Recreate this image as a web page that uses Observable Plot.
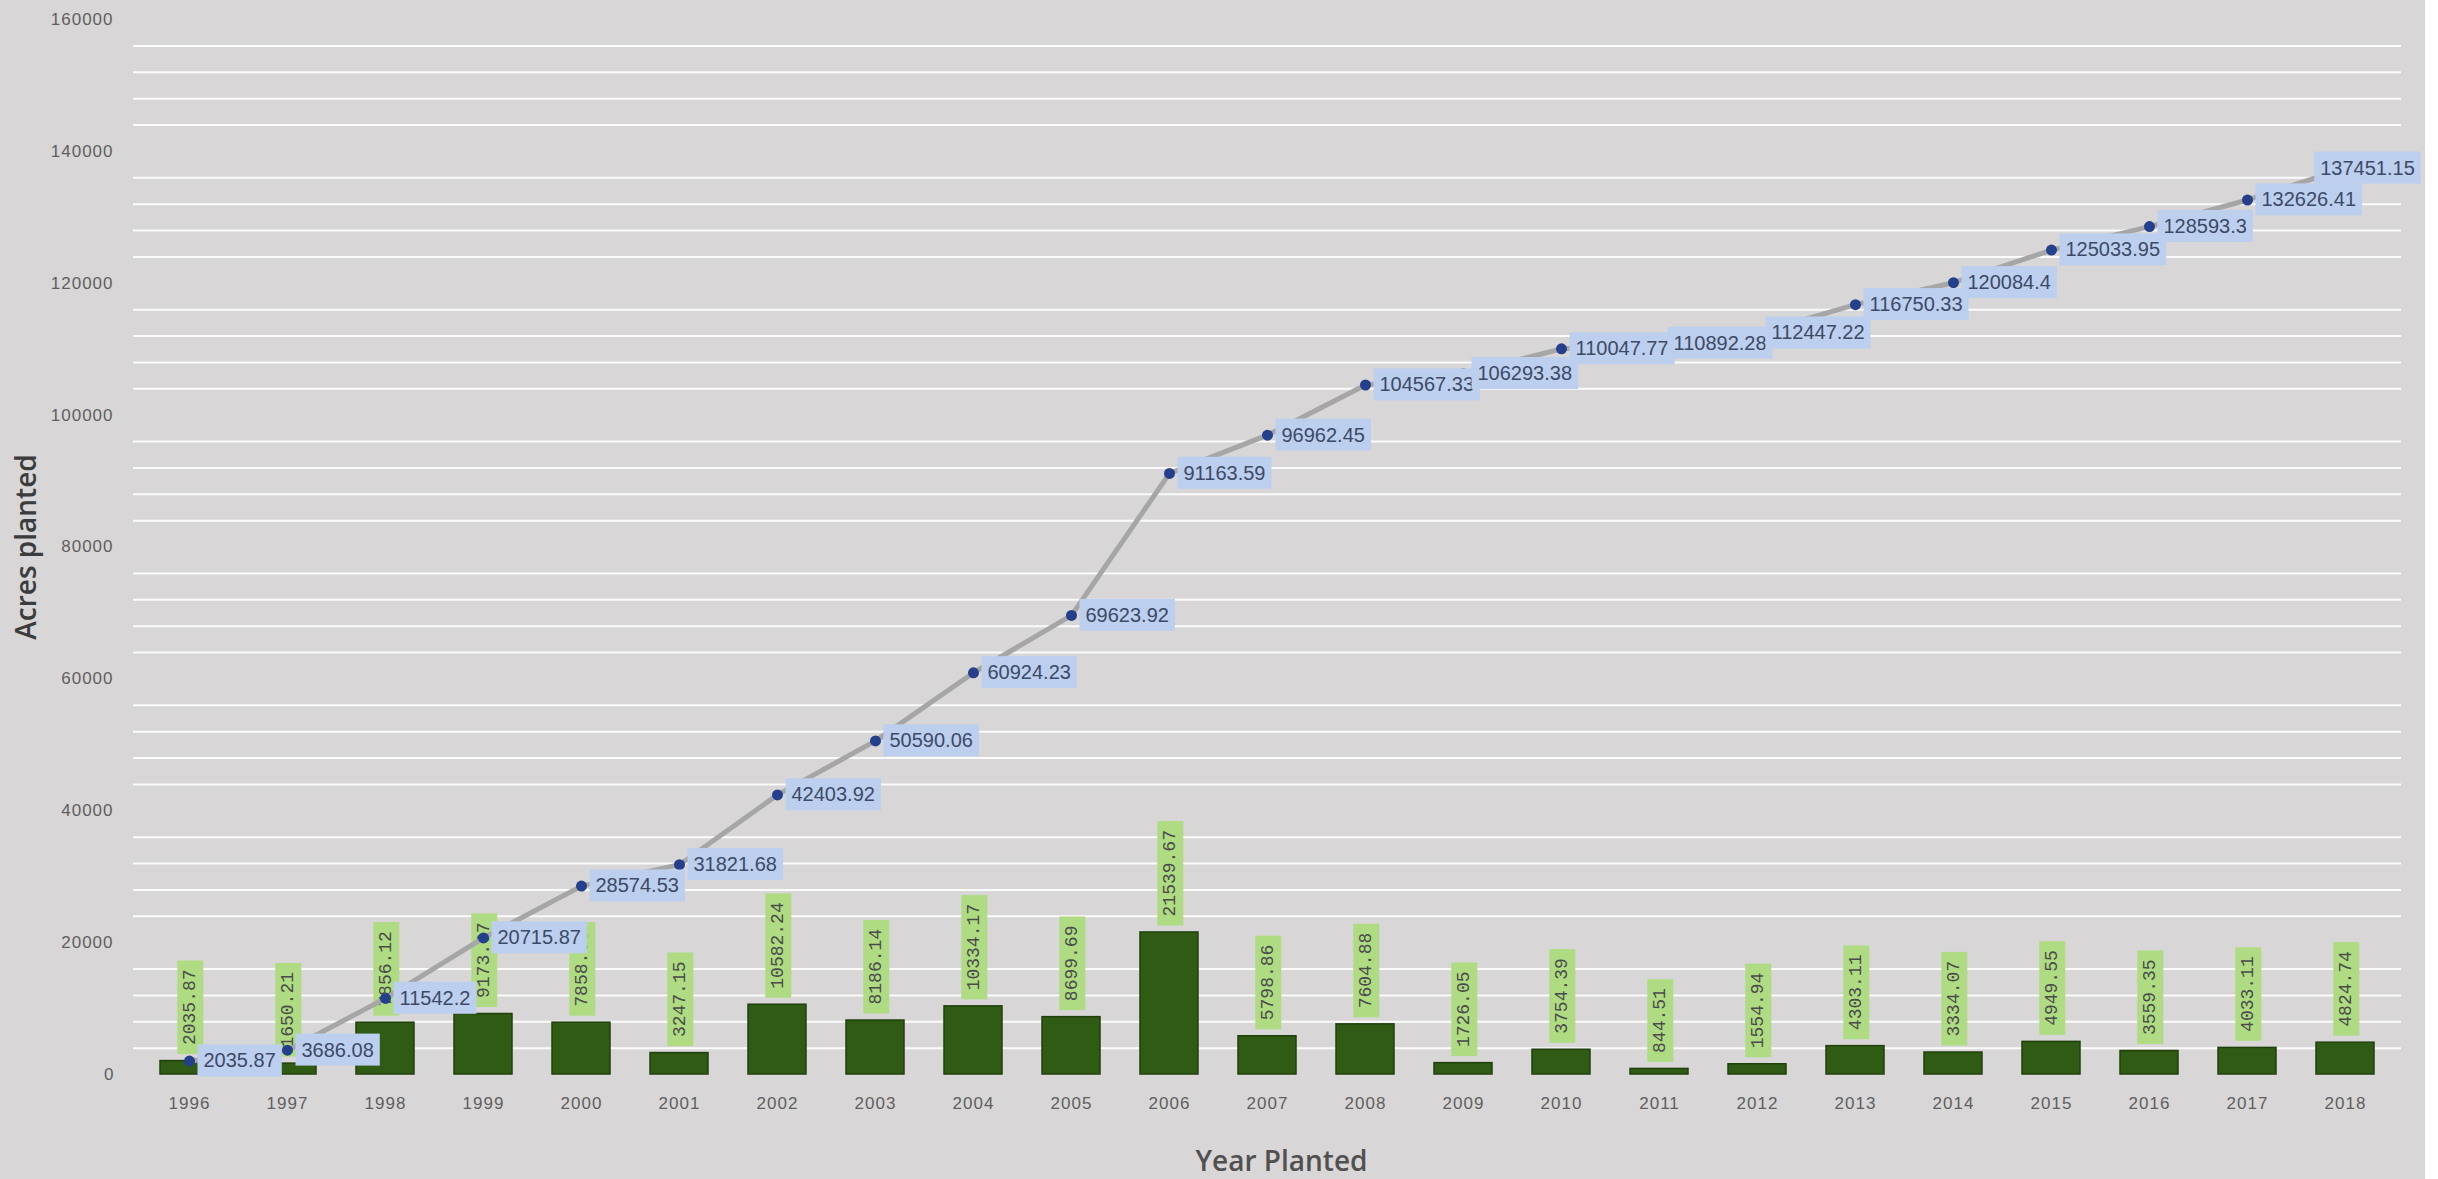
<!DOCTYPE html>
<html>
<head>
<meta charset="utf-8">
<script src="https://cdn.jsdelivr.net/npm/d3@7"></script>
<script src="https://cdn.jsdelivr.net/npm/@observablehq/plot@0.6"></script>
<style>
  html, body { margin: 0; padding: 0; background: #ffffff; }
  #chart svg { display: block; }
</style>
</head>
<body>
<div id="chart"></div>
<script>
// ---- Data ----
const years = [1996, 1997, 1998, 1999, 2000, 2001, 2002, 2003, 2004, 2005, 2006, 2007,
               2008, 2009, 2010, 2011, 2012, 2013, 2014, 2015, 2016, 2017, 2018];

// Acres planted in each year (green bars)
const annualAcres = [2035.87, 1650.21, 7856.12, 9173.67, 7858.66, 3247.15, 10582.24, 8186.14,
                     10334.17, 8699.69, 21539.67, 5798.86, 7604.88, 1726.05, 3754.39, 844.51,
                     1554.94, 4303.11, 3334.07, 4949.55, 3559.35, 4033.11, 4824.74];

// Cumulative acres planted (grey line with blue markers)
const cumulativeAcres = [2035.87, 3686.08, 11542.2, 20715.87, 28574.53, 31821.68, 42403.92,
                         50590.06, 60924.23, 69623.92, 91163.59, 96962.45, 104567.33, 106293.38,
                         110047.77, 110892.28, 112447.22, 116750.33, 120084.4, 125033.95,
                         128593.3, 132626.41, 137451.15];

// Axis tick labels
const yTicks = [0, 20000, 40000, 60000, 80000, 100000, 120000, 140000, 160000];
// Minor white gridlines (every 4000, the labelled values have none)
const gridValues = d3.range(4000, 160000, 4000).filter(v => v % 20000 !== 0);

const yTitle = "Acres planted";
const xTitle = "Year Planted";

// ---- Table built from the arrays ----
const data = years.map((yr, i) => ({
  year: String(yr),
  annual: annualAcres[i],
  total: cumulativeAcres[i]
}));

const SANS = '"Liberation Sans", Arial, sans-serif';
const MONO = '"Liberation Mono", "DejaVu Sans Mono", monospace';
const TITLE = '"Open Sans", "Noto Sans", sans-serif';

const chart = Plot.plot({
  width: 2425,
  height: 1179,
  marginLeft: 133,
  marginRight: 24,
  marginTop: 19,
  marginBottom: 105,
  style: { background: "#d8d6d6", fontFamily: SANS, fontSize: "17px", color: "#5a5a5a" },
  x: { domain: years.map(String), paddingInner: 0.41, paddingOuter: 0.2, label: null },
  y: { domain: [0, 160000], label: null },
  marks: [
    Plot.ruleY(gridValues, { stroke: "#ffffff", strokeWidth: 2, strokeOpacity: 0.9 }),
    Plot.axisY(yTicks, { tickSize: 0, tickPadding: 20, tickFormat: d => String(d),
                         fill: "#5f5f5f", fontSize: 17, label: null }),
    Plot.axisX({ tickSize: 0, tickPadding: 22, fill: "#5f5f5f", fontSize: 17, label: null }),
    Plot.barY(data, { x: "year", y: "annual", fill: "#2f5b15", stroke: "#20400c", strokeWidth: 1.5 }),
    Plot.text(data, {
      x: "year", y: "annual", text: d => String(d.annual),
      rotate: -90, textAnchor: "start", lineAnchor: "middle", dy: -16,
      fontFamily: MONO, fontSize: 18, fill: "#4b4b4b"
    }),
    Plot.line(data, { x: "year", y: "total", stroke: "#a6a6a6", strokeWidth: 5 }),
    Plot.dot(data, { x: "year", y: "total", r: 5.5, fill: "#243f8c" }),
    Plot.text(data.filter(d => d.year !== "2018"), {
      x: "year", y: "total", text: d => String(d.total),
      textAnchor: "start", lineAnchor: "middle", dx: 14,
      fontSize: 20, fill: "#3c4a66"
    }),
    Plot.text(data.filter(d => d.year === "2018"), {
      x: "year", y: "total", text: d => String(d.total),
      textAnchor: "middle", lineAnchor: "middle", dx: 22,
      fontSize: 20, fill: "#3c4a66"
    }),
    Plot.text([yTitle], {
      frameAnchor: "left", text: d => d, rotate: -90, dx: -106,
      textAnchor: "middle", lineAnchor: "middle",
      fontFamily: TITLE, fontSize: 28, fontWeight: 600, fill: "#3c3c3c"
    }),
    Plot.text([xTitle], {
      frameAnchor: "bottom", text: d => d, dx: 14, dy: 96,
      fontFamily: TITLE, fontSize: 28, fontWeight: 600, fill: "#505050"
    })
  ]
});

document.getElementById("chart").appendChild(chart);

// Tick labels: slight letter spacing as in the reference
chart.querySelectorAll("text").forEach(t => {
  if (/^\d{4,6}$/.test(t.textContent)) t.setAttribute("letter-spacing", "1px");
});

// Label background boxes, sized from the rendered label text
const barLabelSet = new Set(annualAcres.map(String));
const lineLabelSet = new Set(cumulativeAcres.map(String));
function addBox(t, fill, padX, padY) {
  const bb = t.getBBox();
  const r = document.createElementNS("http://www.w3.org/2000/svg", "rect");
  r.setAttribute("x", bb.x - padX);
  r.setAttribute("y", bb.y - padY);
  r.setAttribute("width", bb.width + 2 * padX);
  r.setAttribute("height", bb.height + 2 * padY);
  r.setAttribute("fill", fill);
  r.setAttribute("stroke", "none");
  const tr = t.getAttribute("transform");
  if (tr) r.setAttribute("transform", tr);
  t.parentNode.insertBefore(r, t);
}
Array.from(chart.querySelectorAll("text")).forEach(t => {
  const s = t.textContent;
  const tr = t.getAttribute("transform") || "";
  const rotated = tr.includes("rotate");
  if (rotated && barLabelSet.has(s)) addBox(t, "#afdc83", 9, 3);
  else if (!rotated && lineLabelSet.has(s)) addBox(t, "#bdcfee", 6, 5);
});
</script>
</body>
</html>
